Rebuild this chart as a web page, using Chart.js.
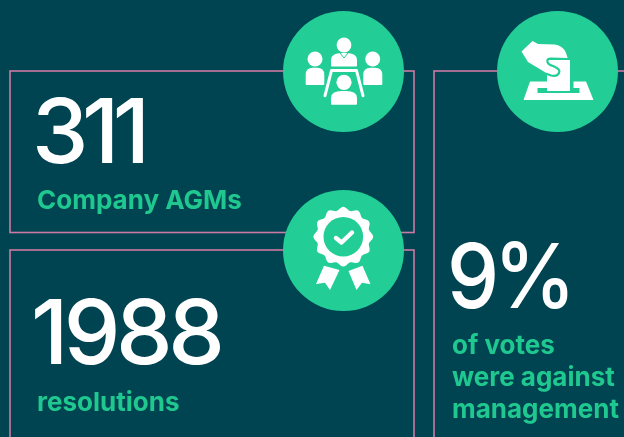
<!DOCTYPE html>
<html>
<head>
<meta charset="utf-8">
<script src="https://cdn.jsdelivr.net/npm/chart.js@4"></script>
<style>
  html, body { margin: 0; padding: 0; background: #004452; overflow: hidden; }
  canvas { display: block; }
</style>
</head>
<body>
<canvas id="stats" width="624" height="437"></canvas>
<script>
// the figures on the cards
const statValues = ['311', '1988', '9%'];
const statLabels = [['Company AGMs'], ['resolutions'], ['of votes', 'were against', 'management']];

const BG = '#004452';
const GREEN = '#22CE95';
const LABEL_GREEN = '#1FC88F';
const PINK = '#CC7AA2';

// layout in reference pixels, kept apart from the figures
const cards = [
  { left: 10, top: 71, right: 414, bottom: 232.5 },
  { left: 10, top: 250, right: 414, bottom: 460 },
  { left: 434, top: 71, right: 660, bottom: 460 }
];
const badges = [{ x: 343.5, y: 71.5 }, { x: 557.5, y: 71.5 }, { x: 343.5, y: 250.5 }];
const valuePos = [
  { x: 32, y: 163, spacing: -6.5, stretch: 1 },
  { x: 31, y: 364, spacing: -4.5, stretch: 1 },
  { x: 447, y: 308, spacing: -6, stretch: 0.92 }
];
const labelPos = [{ x: 37, y: 209 }, { x: 37, y: 411 }, { x: 452, y: 354 }];

function drawPeople(ctx) {
  const head = (x, y, r) => { ctx.beginPath(); ctx.arc(x, y, r, 0, Math.PI * 2); ctx.fill(); };
  const body = (l, r, t, b) => {
    const m = (l + r) / 2;
    ctx.beginPath();
    ctx.moveTo(l, b - 1);
    ctx.lineTo(l, t + 7);
    ctx.quadraticCurveTo(l, t, m - 2, t);
    ctx.lineTo(m + 2, t);
    ctx.quadraticCurveTo(r, t, r, t + 7);
    ctx.lineTo(r, b - 1);
    ctx.quadraticCurveTo(r, b, r - 1, b);
    ctx.lineTo(l + 1, b);
    ctx.quadraticCurveTo(l, b, l, b - 1);
    ctx.fill();
  };
  head(344, 45, 7.4); body(331, 357, 53, 66.5);
  head(315, 59, 7.5); body(305.7, 324.3, 67.7, 85);
  head(372.7, 59, 7.5); body(363.3, 382.3, 67.7, 85);
  head(344, 82.3, 7.6); body(331, 357, 91, 104.7);
  // table
  ctx.lineWidth = 3;
  ctx.lineCap = 'round';
  ctx.lineJoin = 'round';
  ctx.beginPath();
  ctx.moveTo(325, 95.7);
  ctx.lineTo(331.5, 70.5);
  ctx.lineTo(356.5, 70.5);
  ctx.lineTo(363, 95.7);
  ctx.stroke();
  // neck notch on the top person
  ctx.strokeStyle = GREEN;
  ctx.lineWidth = 1;
  ctx.beginPath();
  ctx.moveTo(340, 53);
  ctx.lineTo(344, 58);
  ctx.lineTo(348, 53);
  ctx.stroke();
}

function drawBallot(ctx) {
  // box base
  ctx.beginPath();
  ctx.moveTo(530, 81.5);
  ctx.lineTo(547, 81.5);
  ctx.lineTo(547, 88);
  ctx.lineTo(537.5, 88);
  ctx.lineTo(537.5, 93);
  ctx.lineTo(579.5, 93);
  ctx.lineTo(579.5, 88);
  ctx.lineTo(573.5, 88);
  ctx.lineTo(573.5, 81.5);
  ctx.lineTo(586, 81.5);
  ctx.lineTo(593.5, 100);
  ctx.lineTo(523.5, 100);
  ctx.closePath();
  ctx.fill();
  // paper
  ctx.fillRect(547, 60, 23, 31);
  // hand
  ctx.beginPath();
  ctx.moveTo(521.5, 51.5);
  ctx.lineTo(532.5, 41);
  ctx.lineTo(538, 44);
  ctx.lineTo(555, 44.5);
  ctx.quadraticCurveTo(563, 45.5, 566, 53);
  ctx.lineTo(568, 59);
  ctx.lineTo(547, 59);
  ctx.lineTo(559, 72);
  ctx.quadraticCurveTo(556, 77, 548, 74);
  ctx.lineTo(528, 62);
  ctx.closePath();
  ctx.fill();
  // green fold between hand and paper
  ctx.strokeStyle = GREEN;
  ctx.lineWidth = 2.2;
  ctx.lineCap = 'round';
  ctx.beginPath();
  ctx.moveTo(568, 59);
  ctx.lineTo(551, 58.5);
  ctx.quadraticCurveTo(546.5, 58.5, 547.5, 62);
  ctx.quadraticCurveTo(548, 64.5, 553, 66);
  ctx.quadraticCurveTo(561, 69, 559, 73);
  ctx.quadraticCurveTo(557, 77, 551, 75.5);
  ctx.lineTo(547, 74);
  ctx.stroke();
}

function drawRosette(ctx) {
  const cx = 343.3, cy = 236.7;
  ctx.beginPath();
  for (let a = 0; a <= 360; a += 3) {
    const t = a * Math.PI / 180;
    const r = 28.2 + 1.7 * Math.cos(12 * t);
    const px = cx + r * Math.cos(t), py = cy + r * Math.sin(t);
    if (a === 0) ctx.moveTo(px, py); else ctx.lineTo(px, py);
  }
  ctx.closePath();
  ctx.fill();
  ctx.fillStyle = GREEN;
  ctx.beginPath();
  ctx.arc(cx, cy, 19.8, 0, Math.PI * 2);
  ctx.fill();
  ctx.fillStyle = '#fff';
  // check
  ctx.lineWidth = 4.4;
  ctx.lineCap = 'round';
  ctx.lineJoin = 'round';
  ctx.beginPath();
  ctx.moveTo(336, 238);
  ctx.lineTo(341.5, 242.5);
  ctx.lineTo(352, 232.5);
  ctx.stroke();
  // ribbons
  ctx.beginPath();
  ctx.moveTo(324, 265.7);
  ctx.lineTo(339.5, 270);
  ctx.lineTo(330, 290);
  ctx.lineTo(325, 282.7);
  ctx.lineTo(316, 284);
  ctx.closePath();
  ctx.moveTo(348.5, 271);
  ctx.lineTo(362.5, 265.7);
  ctx.lineTo(370.5, 284.3);
  ctx.lineTo(362, 282.7);
  ctx.lineTo(356.5, 290);
  ctx.closePath();
  ctx.fill();
}

const iconPainters = [drawPeople, drawBallot, drawRosette];

const cardsPlugin = {
  id: 'cards',
  beforeDatasetsDraw(chart) {
    const { ctx, scales: { x, y } } = chart;
    ctx.save();
    ctx.fillStyle = BG;
    ctx.fillRect(0, 0, chart.width, chart.height);
    ctx.strokeStyle = PINK;
    ctx.lineWidth = 1.6;
    cards.forEach(c => {
      const l = x.getPixelForValue(c.left), r = x.getPixelForValue(c.right);
      const t = y.getPixelForValue(c.top), b = y.getPixelForValue(c.bottom);
      ctx.strokeRect(l, t, r - l, b - t);
    });
    ctx.restore();
  },
  afterDatasetsDraw(chart) {
    const { ctx, scales: { x, y } } = chart;
    iconPainters.forEach(paint => {
      ctx.save();
      ctx.fillStyle = '#fff';
      ctx.strokeStyle = '#fff';
      paint(ctx);
      ctx.restore();
    });
    ctx.save();
    ctx.textBaseline = 'alphabetic';
    statValues.forEach((value, i) => {
      const pos = valuePos[i];
      ctx.save();
      ctx.fillStyle = '#fff';
      ctx.font = '550 90px Inter';
      ctx.letterSpacing = pos.spacing + 'px';
      ctx.translate(x.getPixelForValue(pos.x), y.getPixelForValue(pos.y));
      ctx.scale(pos.stretch, 1);
      ctx.fillText(value, 0, 0);
      ctx.restore();
      ctx.fillStyle = LABEL_GREEN;
      ctx.font = '700 26px Inter';
      ctx.letterSpacing = '0px';
      statLabels[i].forEach((line, j) => {
        ctx.fillText(line, x.getPixelForValue(labelPos[i].x), y.getPixelForValue(labelPos[i].y + j * 32));
      });
    });
    ctx.restore();
  }
};

new Chart(document.getElementById('stats').getContext('2d'), {
  type: 'scatter',
  data: {
    datasets: [{
      data: badges,
      backgroundColor: GREEN,
      borderWidth: 0,
      pointRadius: 60.5,
      pointHoverRadius: 60.5,
      clip: false
    }]
  },
  options: {
    responsive: false,
    animation: false,
    events: [],
    layout: { padding: 0, autoPadding: false },
    plugins: { legend: { display: false }, tooltip: { enabled: false } },
    scales: {
      x: { type: 'linear', display: false, min: 0, max: 624 },
      y: { type: 'linear', display: false, min: 0, max: 437, reverse: true }
    }
  },
  plugins: [cardsPlugin]
});
</script>
</body>
</html>
